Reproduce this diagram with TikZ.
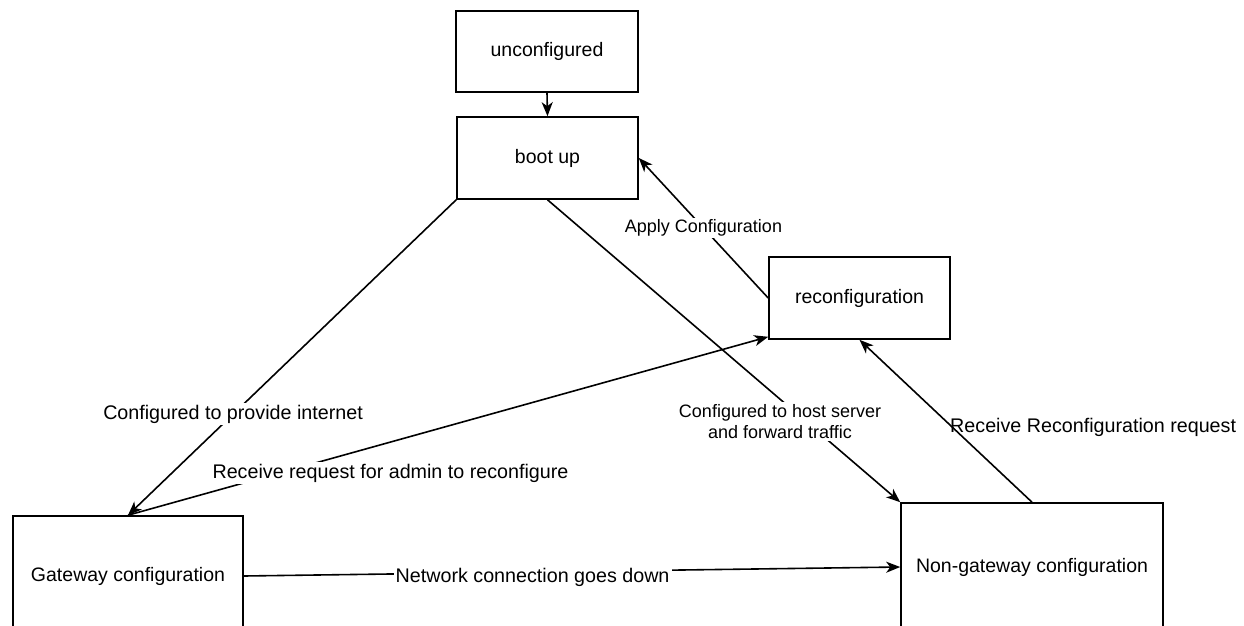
\documentclass[tikz,border=0pt]{standalone}
\usepackage{fontspec}
\setmainfont{Liberation Sans}
\usetikzlibrary{arrows.meta}
\tikzset{
  state/.style={draw, line width=1.6pt, rectangle, inner sep=0pt,
    font=\fontsize{19.5}{23}\selectfont},
  flow/.style={draw, line width=1.6pt,
    -{Stealth[length=14pt,width=11pt,inset=4pt]}},
  lbl/.style={font=\fontsize{19.7}{23}\selectfont, inner sep=2pt, align=center},
  lblbg/.style={lbl, fill=white},
  lblsmall/.style={lblbg, font=\fontsize{18}{21}\selectfont},
}
\begin{document}
\begin{tikzpicture}[x=1pt,y=-1pt]
\useasboundingbox (0,0) rectangle (1244,626);
\clip (0,0) rectangle (1244,626);

% states
\node[state, minimum width=182pt, minimum height=81pt] (unc) at (547,51.5) {unconfigured};
\node[state, minimum width=181pt, minimum height=82pt] (boot) at (547.5,158) {boot up};
\node[state, minimum width=181pt, minimum height=82pt] (reconf) at (859.5,298) {reconfiguration};
\node[state, minimum width=230pt, minimum height=120pt] (gw) at (128,576) {Gateway configuration};
\node[state, minimum width=262pt, minimum height=128pt] (ng) at (1032,567) {Non-gateway configuration};

% transitions
\draw[flow] (unc.south) -- (boot.north);

\draw[flow] (boot.south west) -- (gw.north)
  node[lblbg, pos=0.68] (l1) {Configured to provide internet};

\draw[flow] (gw.north) -- ([yshift=3pt]reconf.south west)
  node[lblbg, pos=0.41, yshift=-31pt] (l2) {Receive request for admin to reconfigure};

\draw[flow] (reconf.west) -- (boot.east)
  node[lblsmall, midway] (l3) {Apply Configuration};

\draw[flow] (ng.north) -- (reconf.south)
  node[lbl, pos=0.463, xshift=141pt] (l4) {Receive Reconfiguration request};

\draw[flow] (boot.south) -- (ng.north west)
  node[lblsmall, pos=0.733, xshift=-26pt] (l5) {Configured to host server\\and forward traffic};

\draw[flow] (gw.east) -- (ng.west)
  node[lblbg, pos=0.44, yshift=-5pt] (l6) {Network connection goes down};
\end{tikzpicture}
\end{document}
